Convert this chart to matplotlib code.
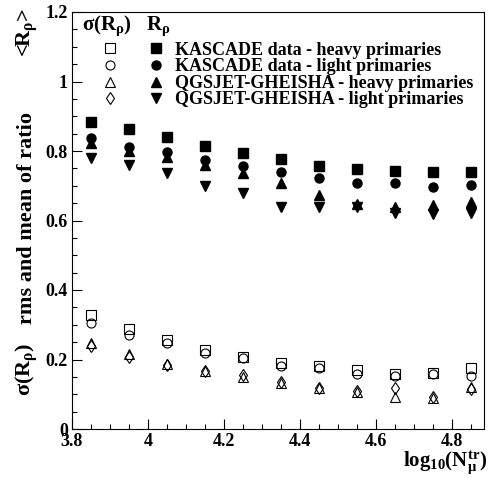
import numpy as np
import matplotlib
matplotlib.use("Agg")
import matplotlib.pyplot as plt
from matplotlib.ticker import MultipleLocator

plt.rcParams["font.family"] = ["Liberation Serif", "DejaVu Serif"]
plt.rcParams["font.weight"] = "bold"
plt.rcParams["mathtext.fontset"] = "custom"
plt.rcParams["mathtext.rm"] = "Liberation Serif:bold"
plt.rcParams["mathtext.bf"] = "Liberation Serif:bold"
plt.rcParams["mathtext.it"] = "Liberation Serif"
plt.rcParams["mathtext.default"] = "rm"

# log10(N_mu^tr) bins
log_nmu = [3.85, 3.95, 4.05, 4.15, 4.25, 4.35, 4.45, 4.55, 4.65, 4.75, 4.85]

# mean of ratio <R_rho> (filled markers)
mean_kas_heavy = [0.884, 0.864, 0.839, 0.814, 0.795, 0.777, 0.757, 0.747, 0.743, 0.739, 0.740]
mean_kas_light = [0.836, 0.812, 0.798, 0.774, 0.757, 0.740, 0.721, 0.709, 0.707, 0.697, 0.702]
mean_qgs_heavy = [0.822, 0.801, 0.782, 0.760, 0.736, 0.709, 0.673, 0.647, 0.640, 0.645, 0.654]
mean_qgs_light = [0.779, 0.760, 0.736, 0.699, 0.680, 0.640, 0.640, 0.640, 0.621, 0.618, 0.621]

# rms sigma(R_rho) (open markers)
rms_kas_heavy = [0.328, 0.287, 0.256, 0.227, 0.208, 0.191, 0.181, 0.170, 0.157, 0.160, 0.175]
rms_kas_light = [0.304, 0.270, 0.247, 0.220, 0.205, 0.182, 0.175, 0.158, 0.153, 0.158, 0.153]
rms_qgs_heavy = [0.248, 0.216, 0.187, 0.168, 0.149, 0.131, 0.117, 0.107, 0.091, 0.088, 0.120]
rms_qgs_light = [0.239, 0.206, 0.184, 0.168, 0.155, 0.136, 0.117, 0.110, 0.117, 0.093, 0.114]

labels = ["KASCADE data - heavy primaries",
          "KASCADE data - light primaries",
          "QGSJET-GHEISHA - heavy primaries",
          "QGSJET-GHEISHA - light primaries"]
markers = ["s", "o", "^", "v"]
open_markers = ["s", "o", "^", "d"]
msizes = [6.5, 6.5, 6.5, 6.5]
open_sizes = [6.5, 6.5, 7, 6]

fig = plt.figure(figsize=(4.94, 4.80), dpi=100)
ax = fig.add_axes([72 / 494, 1 - 429 / 480, (483.5 - 72) / 494, (429 - 12) / 480])

means = [mean_kas_heavy, mean_kas_light, mean_qgs_heavy, mean_qgs_light]
rmss = [rms_kas_heavy, rms_kas_light, rms_qgs_heavy, rms_qgs_light]

for m, ms, y in zip(markers, msizes, means):
    ax.plot(log_nmu, y, linestyle="none", marker=m, ms=ms, color="black")
for m, ms, y in zip(open_markers, open_sizes, rmss):
    ax.plot(log_nmu, y, linestyle="none", marker=m, ms=ms, mfc="none",
            mec="black", mew=0.8)

ax.set_xlim(3.8, 4.883)
ax.set_ylim(0, 1.2)
ax.xaxis.set_major_locator(MultipleLocator(0.2))
ax.xaxis.set_minor_locator(MultipleLocator(0.05))
ax.yaxis.set_major_locator(MultipleLocator(0.2))
ax.yaxis.set_minor_locator(MultipleLocator(0.05))
ax.tick_params(which="both", direction="in", top=False, right=False,
               labelsize=13, width=0.8)
ax.tick_params(which="major", length=7, pad=3)
ax.tick_params(which="minor", length=3.5)
ax.set_xticks([3.8, 4.0, 4.2, 4.4, 4.6, 4.8])
ax.set_xticklabels(["3.8", "4", "4.2", "4.4", "4.6", "4.8"])
ax.set_yticks([0, 0.2, 0.4, 0.6, 0.8, 1.0, 1.2])
ax.set_yticklabels(["0", "0.2", "0.4", "0.6", "0.8", "1", "1.2"])
for lab in ax.get_xticklabels() + ax.get_yticklabels():
    lab.set_fontweight("bold")
for sp in ax.spines.values():
    sp.set_linewidth(0.8)

# legend drawn by hand inside the axes
fig.text(82 / 494, 1 - 14 / 480, r"$\sigma$(R$_\rho$)", fontsize=15,
         va="top", ha="left")
fig.text(146 / 494, 1 - 14 / 480, r"R$_\rho$", fontsize=15,
         va="top", ha="left")
rows_y = [1.096, 1.048, 1.000, 0.953]
for i in range(4):
    ax.plot([3.901], [rows_y[i]], linestyle="none", marker=open_markers[i],
            ms=open_sizes[i], mfc="none", mec="black", mew=0.8)
    ax.plot([4.02], [rows_y[i]], linestyle="none", marker=markers[i],
            ms=msizes[i], color="black")
    ax.text(4.07, rows_y[i] - 0.006, labels[i], fontsize=13,
            va="center", ha="left")

# axis titles
fig.text(27 / 494, 1 - 396 / 480, r"$\sigma$(R$_\rho$)", rotation=90,
         fontsize=16, ha="center", va="bottom")
fig.text(27 / 494, 1 - 218 / 480, "rms and mean of ratio", rotation=90,
         fontsize=16, ha="center", va="center")
fig.text(27 / 494, 1 - 8 / 480, r"<R$_\rho$>", rotation=90,
         fontsize=16, ha="center", va="top")
fig.text(487 / 494, 1 - 463 / 480, r"log$_{10}$(N$_\mu^{tr}$)",
         fontsize=15, ha="right", va="center")

fig.savefig("out.png", dpi=100)
